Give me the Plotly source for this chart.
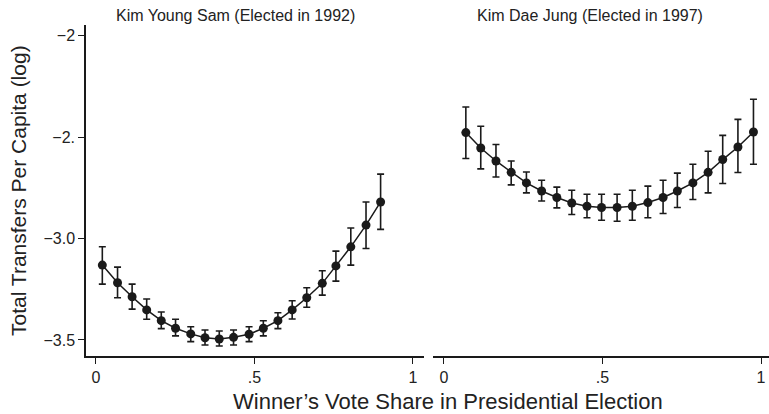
import plotly.graph_objects as go

# Left panel: Kim Young Sam (Elected in 1992)
ys_x = [0.020, 0.068, 0.114, 0.160, 0.206, 0.251, 0.299, 0.344, 0.389, 0.434,
        0.483, 0.528, 0.574, 0.619, 0.665, 0.714, 0.757, 0.804, 0.852, 0.898]
ys_y = [-3.131, -3.218, -3.287, -3.352, -3.405, -3.442, -3.470, -3.489, -3.495, -3.487,
        -3.472, -3.442, -3.405, -3.352, -3.292, -3.221, -3.135, -3.041, -2.934, -2.820]
ys_hi = [-3.041, -3.141, -3.225, -3.298, -3.362, -3.398, -3.435, -3.451, -3.456, -3.451,
         -3.435, -3.405, -3.366, -3.307, -3.243, -3.159, -3.062, -2.948, -2.820, -2.683]
ys_lo = [-3.225, -3.292, -3.348, -3.398, -3.444, -3.480, -3.508, -3.525, -3.530, -3.525,
         -3.508, -3.480, -3.444, -3.397, -3.339, -3.279, -3.210, -3.131, -3.049, -2.955]

# Right panel: Kim Dae Jung (Elected in 1997)
dj_x = [0.069, 0.116, 0.164, 0.212, 0.260, 0.308, 0.356, 0.403, 0.451, 0.497,
        0.546, 0.594, 0.643, 0.691, 0.736, 0.785, 0.833, 0.879, 0.927, 0.976]
dj_y = [-2.478, -2.554, -2.618, -2.674, -2.726, -2.766, -2.798, -2.825, -2.841, -2.847,
        -2.847, -2.841, -2.823, -2.798, -2.766, -2.726, -2.674, -2.611, -2.549, -2.475]
dj_hi = [-2.352, -2.447, -2.537, -2.618, -2.672, -2.713, -2.747, -2.762, -2.782, -2.782,
         -2.782, -2.762, -2.742, -2.713, -2.678, -2.634, -2.570, -2.492, -2.413, -2.314]
dj_lo = [-2.606, -2.657, -2.697, -2.736, -2.775, -2.815, -2.849, -2.882, -2.898, -2.910,
         -2.915, -2.910, -2.898, -2.877, -2.847, -2.808, -2.775, -2.729, -2.675, -2.634]

y_tickvals = [-2.0, -2.5, -3.0, -3.5]
y_ticktext = ["\u22122", "\u22122.", "\u22123.0", "\u22123.5"]
x_tickvals = [0, 0.5, 1]
x_ticktext = ["0", ".5", "1"]

titles = ["Kim Young Sam (Elected in 1992)", "Kim Dae Jung (Elected in 1997)"]
x_title = "Winner\u2019s Vote Share in Presidential Election"
y_title = "Total Transfers Per Capita (log)"

INK = "#1a1a1a"
FONT = "Liberation Sans, Arial, Helvetica, sans-serif"

fig = go.Figure()

def add_series(x, y, hi, lo, xa, ya):
    fig.add_trace(go.Scatter(
        x=x, y=y, mode="lines+markers", xaxis=xa, yaxis=ya,
        line=dict(color=INK, width=1.5),
        marker=dict(color=INK, size=9),
        error_y=dict(type="data", symmetric=False,
                     array=[h - v for h, v in zip(hi, y)],
                     arrayminus=[v - l for v, l in zip(y, lo)],
                     color=INK, thickness=1.6, width=3.5),
        showlegend=False, hoverinfo="skip"))

add_series(ys_x, ys_y, ys_hi, ys_lo, "x", "y")
add_series(dj_x, dj_y, dj_hi, dj_lo, "x2", "y2")

yrange = [-3.579, -1.948]
axis_common = dict(showgrid=False, zeroline=False, ticks="outside", ticklen=6,
                   tickwidth=1.2, tickcolor=INK, linecolor=INK, linewidth=1.5,
                   tickfont=dict(family=FONT, size=16, color="#222"))

fig.update_layout(
    width=769, height=414,
    margin=dict(l=86, r=0, t=25, b=58),
    plot_bgcolor="white", paper_bgcolor="white",
    font=dict(family=FONT, color="#222"),
    xaxis=dict(domain=[0, 0.4949], range=[-0.0315, 1.035], showline=True,
               tickvals=x_tickvals, ticktext=x_ticktext, anchor="y", **axis_common),
    xaxis2=dict(domain=[0.508, 1], range=[-0.0347, 1.025], showline=True,
                tickvals=x_tickvals, ticktext=x_ticktext, anchor="y2", **axis_common),
    yaxis=dict(range=yrange, showline=True, tickvals=y_tickvals, ticktext=y_ticktext,
               anchor="x", **axis_common),
    yaxis2=dict(range=yrange, showline=False, showticklabels=False, ticks="",
                showgrid=False, zeroline=False, anchor="x2"),
    annotations=[
        dict(text=titles[0], x=0.2196, y=1.030, xref="paper", yref="paper",
             showarrow=False, xanchor="center", yanchor="middle",
             font=dict(family=FONT, size=16, color="#222")),
        dict(text=titles[1], x=0.738, y=1.030, xref="paper", yref="paper",
             showarrow=False, xanchor="center", yanchor="middle",
             font=dict(family=FONT, size=16, color="#222")),
        dict(text=x_title, x=0.530, y=-0.136, xref="paper", yref="paper",
             showarrow=False, xanchor="center", yanchor="middle",
             font=dict(family=FONT, size=22, color="#222")),
        dict(text=y_title, x=-0.0996, y=0.5015, xref="paper", yref="paper",
             showarrow=False, xanchor="center", yanchor="middle", textangle=-90,
             font=dict(family=FONT, size=21, color="#222")),
    ],
)

fig.write_html("out.html", config={"displayModeBar": False},
               post_script="document.body.style.margin='0';")
